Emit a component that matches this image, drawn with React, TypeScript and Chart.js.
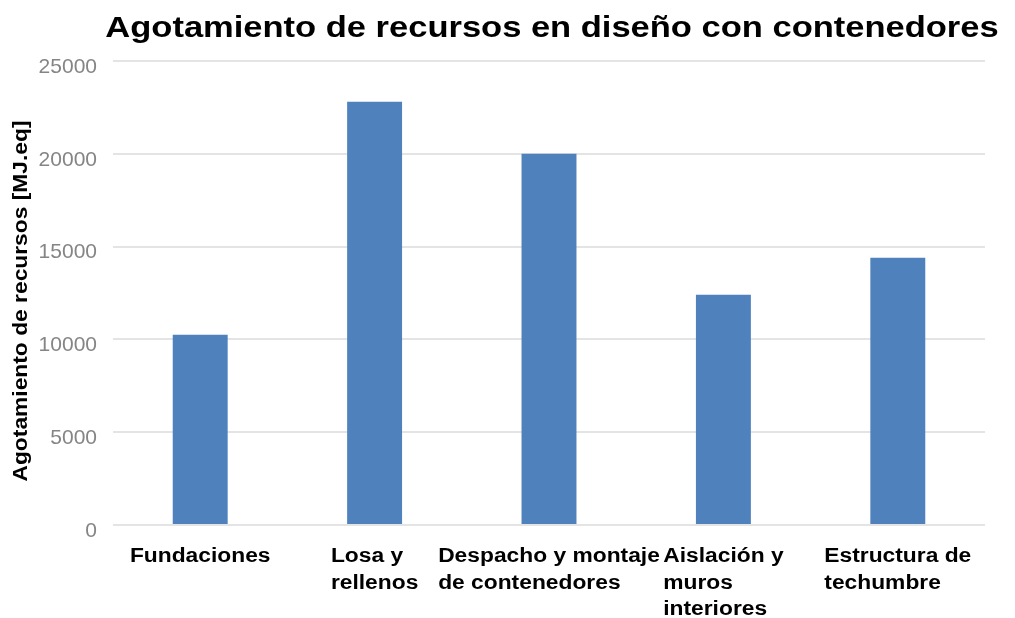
import React, { useEffect, useRef } from "react";
import { Chart, registerables } from "chart.js";

Chart.register(...registerables);

const chartTitle = "Agotamiento de recursos en diseño con contenedores";
const yAxisTitle = "Agotamiento de recursos [MJ.eq]";
const categories: string[][] = [
  ["Fundaciones"],
  ["Losa y", "rellenos"],
  ["Despacho y montaje", "de contenedores"],
  ["Aislación y", "muros", "interiores"],
  ["Estructura de", "techumbre"],
];
const values = [10250, 22800, 20000, 12400, 14400];
const yMin = 0;
const yMax = 25000;
const yStep = 5000;

const FONT = "'Liberation Sans', Arial, sans-serif";
const STRETCH = 1.14;

function drawText(ctx: any, text: string, x: number, y: number, align: string, sx: number, rot = 0) {
  ctx.save();
  ctx.translate(x, y);
  if (rot) ctx.rotate(rot);
  ctx.scale(sx, 1);
  ctx.textAlign = align;
  ctx.fillText(text, 0, 0);
  ctx.restore();
}

const customText = {
  id: "customText",
  afterDraw(chart: any) {
    const ctx = chart.ctx;
    const area = chart.chartArea;
    const xs = chart.scales.x;
    ctx.save();
    ctx.fillStyle = "#000";
    ctx.textBaseline = "alphabetic";
    // title
    ctx.font = `bold 30px ${FONT}`;
    drawText(ctx, chartTitle, (area.left + area.right) / 2 + 3, 37, "center", 1.15);
    // y axis title
    ctx.font = `bold 20px ${FONT}`;
    ctx.textBaseline = "middle";
    drawText(ctx, yAxisTitle, 21, (area.top + area.bottom) / 2 + 8, "center", STRETCH, -Math.PI / 2);
    // x labels
    ctx.textBaseline = "alphabetic";
    ctx.font = `bold 20px ${FONT}`;
    const W = chart.width;
    categories.forEach((lines, i) => {
      const cx = xs.getPixelForValue(i);
      const w = Math.max(...lines.map((l) => ctx.measureText(l).width)) * STRETCH;
      let left = cx - w / 2;
      if (left < area.left) left = area.left;
      if (left + w > W - 4) left = W - 4 - w;
      lines.forEach((l, j) => {
        drawText(ctx, l, left, area.bottom + 37 + j * 26.5, "left", STRETCH);
      });
    });
    ctx.restore();
  },
};

export default function App() {
  const ref = useRef<HTMLCanvasElement>(null);
  useEffect(() => {
    if (!ref.current) return;
    const chart = new Chart(ref.current, {
      type: "bar",
      data: {
        labels: categories.map((c) => c.join(" ")),
        datasets: [
          {
            data: values,
            backgroundColor: "#4f81bd",
            borderWidth: 0,
            barPercentage: 0.315,
            categoryPercentage: 1,
          },
        ],
      },
      options: {
        responsive: false,
        animation: false,
        layout: { padding: { top: 61, right: 30, left: 0, bottom: 0 } },
        plugins: {
          legend: { display: false },
          tooltip: { enabled: false },
          title: { display: false },
        },
        scales: {
          x: {
            grid: { display: false },
            border: { display: false },
            ticks: { display: false },
            afterFit: (s: any) => {
              s.height = 93;
            },
          },
          y: {
            min: yMin,
            max: yMax,
            grid: { color: "#e4e4e4", lineWidth: 2, drawTicks: false },
            border: { display: false },
            ticks: {
              stepSize: yStep,
              padding: 16,
              labelOffset: 6,
              color: "#858585",
              font: { family: FONT, size: 21 },
              callback: (v: any) => String(v),
            },
            afterFit: (s: any) => {
              s.width = 113;
            },
          },
        },
      },
      plugins: [customText],
    });
    return () => chart.destroy();
  }, []);
  return (
    <div style={{ position: "absolute", left: 0, top: 0, width: 1015, height: 618, background: "#fff" }}>
      <canvas ref={ref} width={1015} height={618} style={{ display: "block" }} />
    </div>
  );
}
